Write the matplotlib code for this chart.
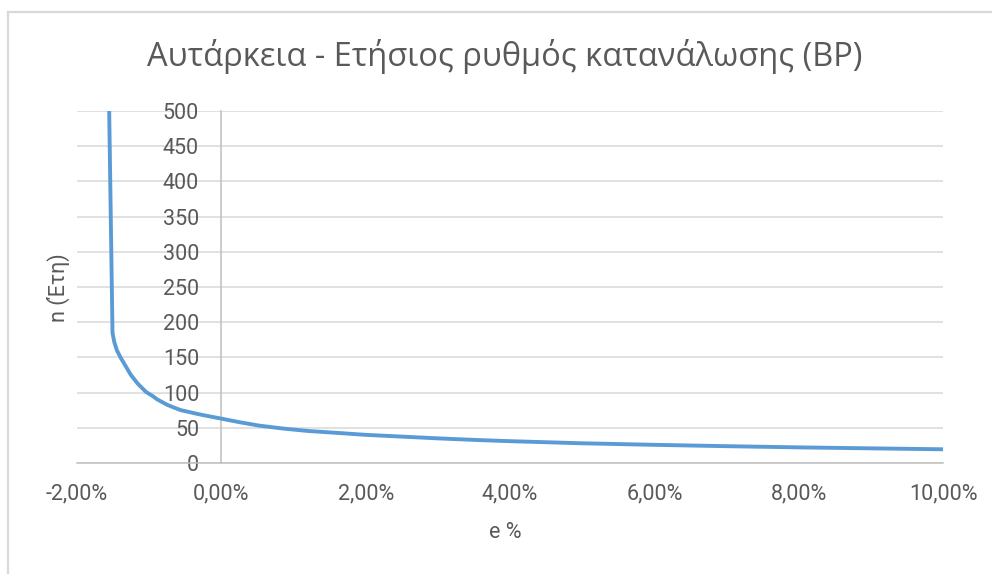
import matplotlib.pyplot as plt
from matplotlib.lines import Line2D
from matplotlib.ticker import FuncFormatter, MultipleLocator

# annual consumption growth rate e (%) vs years of self-sufficiency n
growth_pct = [-1.554, -1.508, -1.484, -1.447, -1.392, -1.322, -1.253, -1.161, -1.045,
              -0.95, -0.883, -0.745, -0.65, -0.559, -0.45, -0.30, -0.15, 0.00,
              0.25, 0.53, 0.85, 1.20, 1.50, 2.00, 2.50, 3.00, 3.58,
              4.00, 5.00, 6.00, 7.00, 8.00, 9.00, 10.00]
years = [500, 185, 172, 160, 149, 137, 125, 113, 101,
         95, 90, 82.4, 78.5, 75, 72.5, 69, 66, 63,
         58, 53, 49, 45.5, 43.5, 40, 37.5, 35, 32.5,
         31, 28, 25.8, 23.9, 22.2, 20.8, 19.5]

TEXT = "#595959"
GRID = "#D9D9D9"
AXIS = "#BFBFBF"
BLUE = "#5B9BD5"

fig = plt.figure(figsize=(9.92, 5.74), dpi=100)
ax = fig.add_axes([77 / 992, 1 - 463 / 574, 866 / 992, 352 / 574])

ax.plot(growth_pct, years, color=BLUE, linewidth=2.8, solid_joinstyle="round",
        solid_capstyle="butt", zorder=3)

ax.set_xlim(-2, 10)
ax.set_ylim(0, 500)
ax.xaxis.set_major_locator(MultipleLocator(2))
ax.yaxis.set_major_locator(MultipleLocator(50))
ax.xaxis.set_major_formatter(FuncFormatter(lambda v, _: f"{v:.2f}%".replace(".", ",")))

ax.grid(axis="y", color=GRID, linewidth=1.1)
ax.set_axisbelow(True)
for side in ("top", "right"):
    ax.spines[side].set_visible(False)
ax.spines["left"].set_position(("data", 0))
ax.spines["left"].set_color(AXIS)
ax.spines["bottom"].set_color(AXIS)
ax.spines["left"].set_linewidth(1.1)
ax.spines["bottom"].set_linewidth(1.1)

ax.tick_params(axis="both", length=0, labelsize=15.5, labelcolor=TEXT)
ax.tick_params(axis="y", pad=16)
ax.tick_params(axis="x", pad=15)
for lbl in ax.get_xticklabels() + ax.get_yticklabels():
    lbl.set_fontfamily("Roboto")

fig.text(505 / 992, 1 - 57 / 574, "Αυτάρκεια - Ετήσιος ρυθμός κατανάλωσης (BP)",
         ha="center", va="center", fontsize=23.5, color=TEXT, family="Open Sans")
fig.text(505 / 992, 1 - 533 / 574, "e %", ha="center", va="center",
         fontsize=15.5, color=TEXT, family="Roboto")
fig.text(58 / 992, 1 - 288 / 574, "n (Έτη)", ha="center", va="center",
         rotation=90, fontsize=15.5, color=TEXT, family="Roboto")

# chart area frame (left and top edges)
fig.add_artist(Line2D([7.5 / 992, 7.5 / 992], [0, 1 - 11.5 / 574], color=GRID, linewidth=1.6))
fig.add_artist(Line2D([7.5 / 992, 1], [1 - 11.5 / 574, 1 - 11.5 / 574], color=GRID, linewidth=1.6))

fig.savefig("out.png", dpi=100, facecolor="white")
